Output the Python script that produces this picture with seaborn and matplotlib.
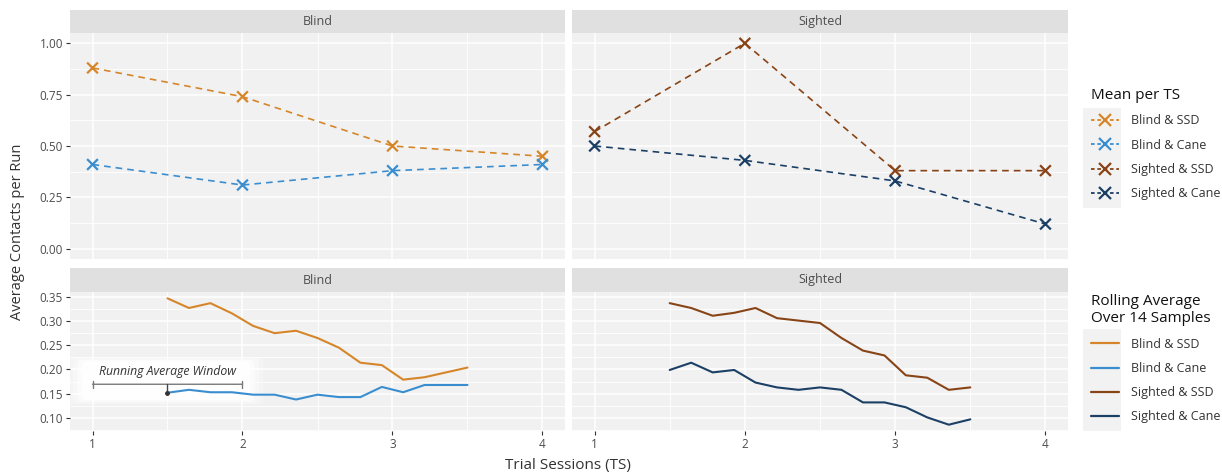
import numpy as np
import pandas as pd
import matplotlib
matplotlib.use("Agg")
import matplotlib.pyplot as plt
import seaborn as sns
from matplotlib.lines import Line2D
from matplotlib.patches import Rectangle, FancyBboxPatch
from matplotlib.ticker import MultipleLocator

# Mean contacts per trial session
ts = [1, 2, 3, 4]
blind_ssd_mean = [0.88, 0.74, 0.50, 0.45]
blind_cane_mean = [0.41, 0.31, 0.38, 0.41]
sighted_ssd_mean = [0.57, 1.00, 0.38, 0.38]
sighted_cane_mean = [0.50, 0.43, 0.33, 0.12]

# Rolling average over 14 samples
roll_ts = [1.5, 1.643, 1.786, 1.929, 2.071, 2.214, 2.357, 2.5,
           2.643, 2.786, 2.929, 3.071, 3.214, 3.357, 3.5]
blind_ssd_roll = [0.347, 0.327, 0.337, 0.316, 0.290, 0.275, 0.280, 0.265,
                  0.245, 0.214, 0.209, 0.179, 0.184, 0.194, 0.204]
blind_cane_roll = [0.152, 0.158, 0.153, 0.153, 0.148, 0.148, 0.138, 0.148,
                   0.143, 0.143, 0.164, 0.153, 0.168, 0.168, 0.168]
sighted_ssd_roll = [0.337, 0.327, 0.311, 0.317, 0.327, 0.306, 0.301, 0.296,
                    0.265, 0.239, 0.229, 0.188, 0.183, 0.158, 0.163]
sighted_cane_roll = [0.199, 0.214, 0.194, 0.199, 0.173, 0.163, 0.158, 0.163,
                     0.158, 0.132, 0.132, 0.122, 0.101, 0.086, 0.097]

groups = ["Blind & SSD", "Blind & Cane", "Sighted & SSD", "Sighted & Cane"]
palette = {"Blind & SSD": "#D6862A", "Blind & Cane": "#3A8ED0",
           "Sighted & SSD": "#884416", "Sighted & Cane": "#1C3F66"}

mean_df = pd.concat([
    pd.DataFrame({"TS": ts, "value": v, "group": g, "vision": g.split(" & ")[0]})
    for g, v in zip(groups, [blind_ssd_mean, blind_cane_mean, sighted_ssd_mean, sighted_cane_mean])
])
roll_df = pd.concat([
    pd.DataFrame({"TS": roll_ts, "value": v, "group": g, "vision": g.split(" & ")[0]})
    for g, v in zip(groups, [blind_ssd_roll, blind_cane_roll, sighted_ssd_roll, sighted_cane_roll])
])

sns.set_style("white")
plt.rcParams['font.family'] = ['Open Sans', 'DejaVu Sans']

W, H = 1222, 476
fig = plt.figure(figsize=(W / 100, H / 100), dpi=100)


def px_axes(x0, y0, x1, y1):
    # axes from pixel box (top-left origin)
    return fig.add_axes([x0 / W, 1 - y1 / H, (x1 - x0) / W, (y1 - y0) / H])


panel_bg = "#F1F1F1"
strip_bg = "#E0E0E0"
txt_col = "#4D4D4D"


def strip(x0, x1, y0, y1, label):
    s = px_axes(x0, y0, x1, y1)
    s.set_facecolor(strip_bg)
    s.set_xticks([]); s.set_yticks([])
    for sp in s.spines.values():
        sp.set_visible(False)
    s.text(0.5, 0.5, label, ha="center", va="center", fontsize=9, color="#4D4D4D",
           transform=s.transAxes)


def style_panel(ax, ymajor, yminor, show_y, show_x):
    ax.set_facecolor(panel_bg)
    for sp in ax.spines.values():
        sp.set_visible(False)
    ax.xaxis.set_major_locator(MultipleLocator(1))
    ax.xaxis.set_minor_locator(MultipleLocator(0.5))
    ax.yaxis.set_major_locator(MultipleLocator(ymajor))
    ax.yaxis.set_minor_locator(MultipleLocator(yminor))
    ax.grid(which="major", color="white", linewidth=1.1)
    ax.grid(which="minor", color="white", linewidth=0.6)
    ax.set_axisbelow(True)
    ax.tick_params(which="minor", length=0)
    ax.tick_params(axis="y", which="major", length=3, width=0.8, color="#333333",
                   labelsize=8.5, labelcolor=txt_col, pad=2, left=show_y, labelleft=show_y)
    ax.tick_params(axis="x", which="major", length=3, width=0.8, color="#333333",
                   labelsize=8.5, labelcolor=txt_col, pad=2, bottom=show_x, labelbottom=show_x)
    ax.set_xlabel(""); ax.set_ylabel("")
    ax.set_xlim(0.85, 4.15)


cols = [(70, 565, "Blind"), (572, 1068, "Sighted")]

# top row: means
for i, (x0, x1, vis) in enumerate(cols):
    strip(x0, x1, 10, 33, vis)
    ax = px_axes(x0, 33, x1, 259)
    sub = mean_df[mean_df["vision"] == vis]
    sns.lineplot(data=sub, x="TS", y="value", hue="group", palette=palette, ax=ax,
                 linestyle=(0, (4, 3)), linewidth=1.2, legend=False, zorder=3)
    sns.scatterplot(data=sub, x="TS", y="value", hue="group", palette=palette, ax=ax,
                    marker="x", s=60, linewidth=1.6, legend=False, zorder=4)
    style_panel(ax, 0.25, 0.125, show_y=(i == 0), show_x=False)
    ax.set_ylim(-0.05, 1.05)
    if i == 0:
        ax.set_yticklabels([f"{t:.2f}" for t in ax.get_yticks()])

# bottom row: rolling averages
lo, hi = roll_df["value"].min(), roll_df["value"].max()
pad = (hi - lo) * 0.05
for i, (x0, x1, vis) in enumerate(cols):
    strip(x0, x1, 268, 292, vis)
    ax = px_axes(x0, 292, x1, 431)
    sub = roll_df[roll_df["vision"] == vis]
    sns.lineplot(data=sub, x="TS", y="value", hue="group", palette=palette, ax=ax,
                 linewidth=1.5, legend=False, zorder=3)
    style_panel(ax, 0.05, 0.025, show_y=(i == 0), show_x=True)
    ax.set_ylim(lo - pad, hi + pad)
    if i == 0:
        ax.set_yticklabels([f"{t:.2f}" for t in ax.get_yticks()])
        # soft white label box for the window annotation
        for k, a in enumerate([0.25, 0.35, 0.5, 0.8]):
            dx = 0.06 * (3 - k)
            dy = 0.006 * (3 - k)
            ax.add_patch(FancyBboxPatch((0.93 - dx * 0.5, 0.137 - dy * 0.5),
                                        1.12 + dx, 0.08 + dy,
                                        boxstyle="round,pad=0,rounding_size=0.02",
                                        facecolor="white", edgecolor="none",
                                        alpha=a, zorder=2))
        ax.annotate("", xy=(1, 0.1695), xytext=(2, 0.1695),
                    arrowprops=dict(arrowstyle="|-|,widthA=0.25,widthB=0.25",
                                    color="#7A7A7A", linewidth=1.0,
                                    shrinkA=0, shrinkB=0), zorder=5)
        ax.plot([1.5, 1.5], [0.1695, blind_cane_roll[0]], color="#444444",
                linewidth=1.0, zorder=5)
        ax.plot([1.5], [blind_cane_roll[0]], "o", color="#333333", markersize=2.5, zorder=6)
        ax.text(1.5, 0.1965, "Running Average Window", ha="center", va="center",
                fontsize=8.8, style="italic", color="#333333", zorder=6)

# axis titles
fig.text(18 / W, 1 - 232 / H, "Average Contacts per Run", rotation=90,
         ha="center", va="center", fontsize=10.5, color="#333333")
fig.text(568 / W, 1 - 465 / H, "Trial Sessions (TS)", ha="center", va="center",
         fontsize=11, color="#333333")

# legends
mean_handles = [Line2D([], [], color=palette[g], linestyle=(0, (2, 1.5)), linewidth=1.3,
                       marker="x", markersize=8, markeredgewidth=1.6) for g in groups]
roll_handles = [Line2D([], [], color=palette[g], linewidth=1.6) for g in groups]

fig.patches.append(Rectangle((1083 / W, 1 - 208 / H), 38 / W, 100 / H,
                             transform=fig.transFigure, facecolor="#F2F2F2",
                             edgecolor="none", zorder=0))
fig.patches.append(Rectangle((1083 / W, 1 - 431 / H), 38 / W, 102 / H,
                             transform=fig.transFigure, facecolor="#F2F2F2",
                             edgecolor="none", zorder=0))

leg1 = fig.legend(mean_handles, groups, title="Mean per TS", loc="upper left",
                  bbox_to_anchor=(1080 / W, 1 - 77 / H), frameon=False, fontsize=9,
                  title_fontsize=11, handlelength=2.2, handletextpad=1.0,
                  labelspacing=0.9, numpoints=1, alignment="left")
leg2 = fig.legend(roll_handles, groups, title="Rolling Average\nOver 14 Samples",
                  loc="upper left", bbox_to_anchor=(1080 / W, 1 - 283 / H),
                  frameon=False, fontsize=9, title_fontsize=11, handlelength=2.2,
                  handletextpad=1.0, labelspacing=0.9, alignment="left")
for leg in (leg1, leg2):
    for t in leg.get_texts():
        t.set_color("#333333")
    leg.get_title().set_color("#111111")

fig.savefig("out.png", dpi=100, facecolor="white")
